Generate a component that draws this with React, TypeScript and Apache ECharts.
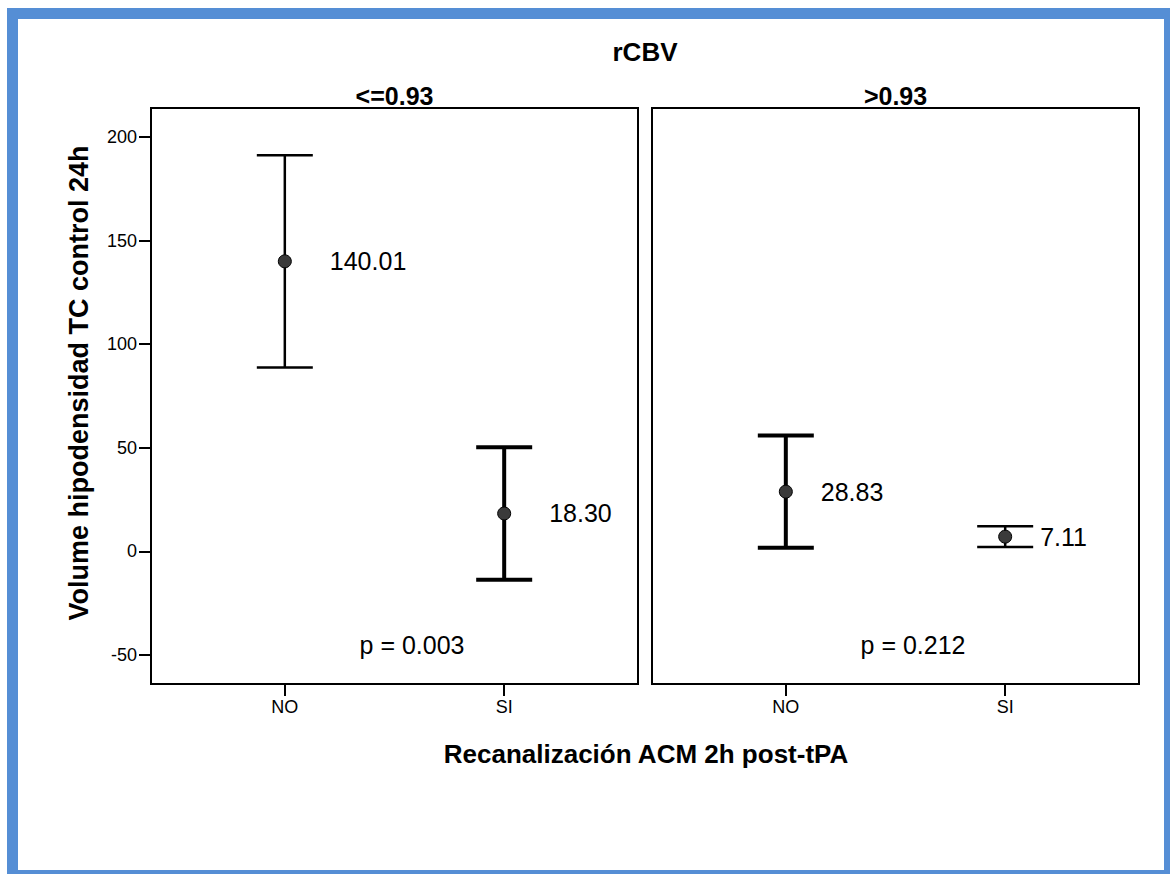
import React, { useEffect, useRef } from "react";
import * as echarts from "echarts";

const categories = ["NO", "SI"];
const panelTitles = ["<=0.93", ">0.93"];
const meansLow = [140.01, 18.3];
const lowerLow = [88.8, -13.7];
const upperLow = [191.2, 50.3];
const meansHigh = [28.83, 7.11];
const lowerHigh = [1.8, 2.1];
const upperHigh = [55.9, 12.1];
const pValues = ["0.003", "0.212"];
const yTicks = [-50, 0, 50, 100, 150, 200];
const xTicks = [0, 1];

const FONT = "'Liberation Sans', Arial, Helvetica, sans-serif";
const barLineWidths = [
  [2.5, 4],
  [4, 2.5],
];
const labelGaps = [38, 28];

export default function App() {
  const ref = useRef<HTMLDivElement>(null);
  useEffect(() => {
    if (!ref.current) return;
    const chart = echarts.init(ref.current, null, { renderer: "svg" });
    const grids = [
      { left: 151, top: 108, width: 487, height: 576 },
      { left: 652, top: 108, width: 487, height: 576 },
    ];
    const panelData = [
      { means: meansLow, lower: lowerLow, upper: upperLow },
      { means: meansHigh, lower: lowerHigh, upper: upperHigh },
    ];
    const xAxes = grids.map((_, i) => ({
      type: "value",
      gridIndex: i,
      min: -0.61,
      max: 1.61,
      splitLine: { show: false },
      axisLine: { show: true, onZero: false, lineStyle: { color: "#000", width: 2 } },
      axisTick: { show: true, customValues: xTicks, length: 12, lineStyle: { color: "#000", width: 2 } },
      axisLabel: {
        show: true,
        customValues: xTicks,
        margin: 14,
        fontSize: 18,
        fontFamily: FONT,
        color: "#000",
        formatter: (v: number) => categories[Math.round(v)] ?? "",
      },
    }));
    const yAxes = grids.map((_, i) => ({
      type: "value",
      gridIndex: i,
      min: -64,
      max: 214,
      splitLine: { show: false },
      axisLine: { show: true, onZero: false, lineStyle: { color: "#000", width: 2 } },
      axisTick: {
        show: i === 0,
        customValues: yTicks,
        length: 12,
        lineStyle: { color: "#000", width: 2 },
      },
      axisLabel: {
        show: i === 0,
        customValues: yTicks,
        margin: 14,
        fontSize: 18,
        fontFamily: FONT,
        color: "#000",
      },
    }));
    const series: any[] = [];
    panelData.forEach((pd, i) => {
      const widths = barLineWidths[i];
      series.push({
        type: "custom",
        xAxisIndex: i,
        yAxisIndex: i,
        z: 2,
        data: pd.means.map((_, j) => [j, pd.lower[j], pd.upper[j]]),
        renderItem: (params: any, api: any) => {
          const x = api.value(0);
          const top = api.coord([x, api.value(2)]);
          const bot = api.coord([x, api.value(1)]);
          const half = 28;
          const lw = widths[params.dataIndex];
          const st = { stroke: "#000", lineWidth: lw };
          return {
            type: "group",
            children: [
              { type: "line", shape: { x1: top[0], y1: top[1], x2: bot[0], y2: bot[1] }, style: st },
              { type: "line", shape: { x1: top[0] - half, y1: top[1], x2: top[0] + half, y2: top[1] }, style: st },
              { type: "line", shape: { x1: bot[0] - half, y1: bot[1], x2: bot[0] + half, y2: bot[1] }, style: st },
            ],
          };
        },
      });
      series.push({
        type: "scatter",
        xAxisIndex: i,
        yAxisIndex: i,
        z: 3,
        symbol: "circle",
        symbolSize: 13,
        itemStyle: { color: "#3a3a3a", borderColor: "#000", borderWidth: 1, opacity: 1 },
        label: {
          show: true,
          position: "right",
          distance: labelGaps[i],
          fontSize: 25,
          fontFamily: FONT,
          color: "#000",
          formatter: (p: any) => p.value[1].toFixed(2),
        },
        data: pd.means.map((m, j) => [j, m]),
      });
      series.push({
        type: "scatter",
        xAxisIndex: i,
        yAxisIndex: i,
        symbolSize: 0,
        silent: true,
        itemStyle: { opacity: 1 },
        label: {
          show: true,
          position: "inside",
          fontSize: 25,
          fontFamily: FONT,
          color: "#000",
          opacity: 1,
          formatter: () => "p = " + pValues[i],
        },
        data: [[0.58, -45]],
      });
    });
    const graphic: any[] = [
      {
        type: "rect",
        shape: { x: 12.5, y: 13.5, width: 1157, height: 862 },
        style: { fill: "none", stroke: "#558ED5", lineWidth: 11 },
        z: 10,
      },
      {
        type: "text",
        x: 645,
        y: 52,
        style: { text: "rCBV", font: `bold 26px ${FONT}`, fill: "#000", textAlign: "center", textVerticalAlign: "middle" },
      },
      ...panelTitles.map((t, i) => ({
        type: "text",
        x: grids[i].left + grids[i].width / 2,
        y: 96,
        style: { text: t, font: `bold 25px ${FONT}`, fill: "#000", textAlign: "center", textVerticalAlign: "middle" },
      })),
      {
        type: "text",
        x: 79,
        y: 383,
        rotation: Math.PI / 2,
        style: {
          text: "Volume hipodensidad TC control 24h",
          font: `bold 27px ${FONT}`,
          fill: "#000",
          textAlign: "center",
          textVerticalAlign: "middle",
        },
      },
      {
        type: "text",
        x: 646,
        y: 754,
        style: {
          text: "Recanalización ACM 2h post-tPA",
          font: `bold 26px ${FONT}`,
          fill: "#000",
          textAlign: "center",
          textVerticalAlign: "middle",
        },
      },
    ];
    chart.setOption({
      animation: false,
      backgroundColor: "#fff",
      grid: grids.map((g) => ({ ...g, show: true, borderColor: "#000", borderWidth: 2, backgroundColor: "transparent" })),
      xAxis: xAxes,
      yAxis: yAxes,
      series,
      graphic,
    });
    return () => chart.dispose();
  }, []);
  return (
    <div
      ref={ref}
      style={{ position: "absolute", left: 0, top: 0, width: 1170, height: 874 }}
    />
  );
}
